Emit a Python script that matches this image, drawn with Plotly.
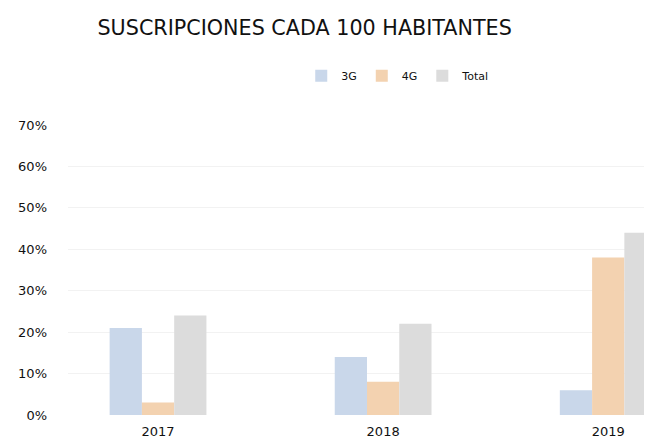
import plotly.graph_objects as go

years = ["2017", "2018", "2019"]
series_names = ["3G", "4G", "Total"]
values_3g = [21, 14, 6]
values_4g = [3, 8, 38]
values_total = [24, 22, 44]
y_ticks = [0, 10, 20, 30, 40, 50, 60, 70]
y_tick_labels = [f"{v}%" for v in y_ticks]

colors = ["#c9d7ea", "#f3d2b0", "#dcdcdc"]

fig = go.Figure()
for name, vals, col in zip(series_names, [values_3g, values_4g, values_total], colors):
    fig.add_trace(go.Bar(name=name, x=years, y=vals, marker_color=col,
                         marker_line_width=0))

fig.update_layout(
    width=652, height=439,
    paper_bgcolor="white", plot_bgcolor="white",
    margin=dict(l=60, r=0, t=117, b=32),
    barmode="group", bargap=0.57, bargroupgap=0.0,
    font=dict(family="DejaVu Sans", color="#111111", size=12),
    title=dict(text="SUSCRIPCIONES CADA 100 HABITANTES",
               x=0.455, xref="container", xanchor="center",
               y=0.955, yref="container", yanchor="middle",
               font=dict(size=20.7, color="#111111", family="DejaVu Sans")),
    legend=dict(orientation="h", x=0.557, xanchor="center", y=1.17, yanchor="middle",
                xref="paper", font=dict(size=11), itemwidth=30,
                bgcolor="rgba(0,0,0,0)"),
    showlegend=True,
)
fig.update_xaxes(range=[-0.4, 2.23], showline=False, showgrid=False, ticks="",
                 tickfont=dict(size=13), ticklabelstandoff=7)
fig.update_yaxes(range=[0, 70], tickvals=y_ticks, ticktext=y_tick_labels,
                 showgrid=True, gridcolor="#f2f2f2", zeroline=False, showline=False,
                 tickfont=dict(size=13), ticklabelstandoff=20)

fig.write_html("out.html")
